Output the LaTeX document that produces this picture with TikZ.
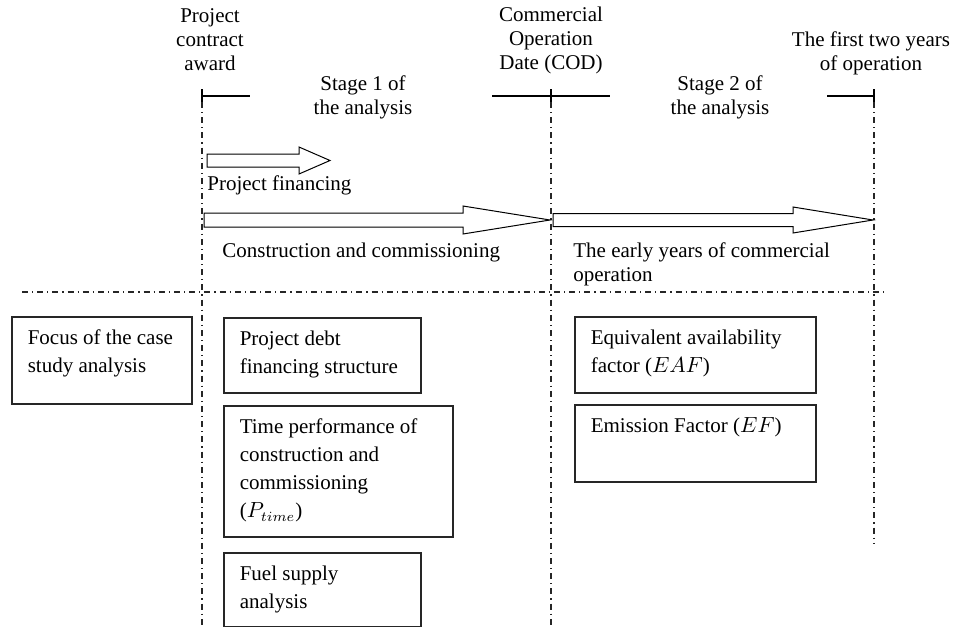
\documentclass[tikz,border=0pt]{standalone}
\usepackage{fontspec}
\setmainfont{Liberation Serif}
\tikzstyle{stylebox} = [rectangle, draw=black!85, line width=0.8pt, anchor=north west, inner sep=0pt, font=\fontsize{10.5pt}{14pt}\selectfont]
\tikzstyle{stylestage} = [align=center, inner sep=0pt, font=\fontsize{10.5pt}{12pt}\selectfont]
\tikzstyle{styletext} = [anchor=base west, inner sep=0pt, font=\fontsize{10.5pt}{12pt}\selectfont]
\tikzstyle{styleline} = [black!85, line width=0.6pt, dash pattern=on 3pt off 2pt on 0.6pt off 2pt]
\tikzstyle{stylebar} = [black, line width=0.7pt]
\tikzstyle{stylearrow} = [black, line width=0.5pt, fill=white]
% box text: width, height, lines
\newcommand{\boxtext}[3]{\parbox[t][#2][t]{#1}{\vspace*{4.2pt}\leftskip=8pt\rightskip=0pt plus 1fil\parindent=0pt\strut#3}}
% block arrow: start x, head x, tip x, centre y, shaft half, head half
\newcommand{\blockarrow}[6]{\draw[stylearrow] (#1,{#4-#5}) -- (#2,{#4-#5}) -- (#2,{#4-#6}) -- (#3,#4) -- (#2,{#4+#6}) -- (#2,{#4+#5}) -- (#1,{#4+#5}) -- cycle;}

\begin{document}
\begin{tikzpicture}[x=0.5pt, y=-0.5pt]
\useasboundingbox (0,0) rectangle (954,627);

% milestones
\coordinate (award) at (202,96);
\coordinate (cod) at (551,96);
\coordinate (opend) at (874,96);

\node (laward) [stylestage] at (210,40) {Project\\contract\\award};
\node (lcod) [stylestage] at (551,40) {Commercial\\Operation\\Date (COD)};
\node (lopend) [stylestage] at (871,53) {The first two years\\of operation};
\node (stage1) [stylestage] at (363,97) {Stage 1 of\\the analysis};
\node (stage2) [stylestage] at (720,97) {Stage 2 of\\the analysis};

\draw[stylebar] (202,89) -- (202,102);
\draw[stylebar] (award) -- (250,96);
\draw[stylebar] (551,89) -- (551,102);
\draw[stylebar] (492,96) -- (610,96);
\draw[stylebar] (874,89) -- (874,102);
\draw[stylebar] (827,96) -- (opend);

\draw[styleline] (202,102) -- (202,627);
\draw[styleline] (551,102) -- (551,627);
\draw[styleline] (874,102) -- (874,543);
\draw[styleline] (22,292) -- (888,292);

% periods
\blockarrow{207}{299}{330}{160.5}{6.5}{13.5}
\blockarrow{204}{463}{550}{220}{7}{14}
\blockarrow{553}{793}{873}{220}{6.5}{13}

\node (tfin) [styletext] at (207,190) {Project financing};
\node (tcon) [styletext] at (222,257) {Construction and commissioning};
\node (tear) [styletext, align=left] at (573,281) {The early years of commercial\\operation};

% focus boxes
\node (focus) [stylebox] at (11,316) {\boxtext{90pt}{43.5pt}{Focus of the case\\study analysis}};
\node (debt) [stylebox] at (223,317) {\boxtext{98.5pt}{37.5pt}{Project debt\\financing structure}};
\node (ptime) [stylebox] at (223,405) {\boxtext{114.5pt}{65.5pt}{Time performance of\\construction and\\commissioning\\($P_{time}$)}};
\node (fuel) [stylebox] at (223,552) {\boxtext{98.5pt}{37pt}{Fuel supply\\analysis}};
\node (eaf) [stylebox] at (574,316) {\boxtext{120.5pt}{38pt}{Equivalent availability\\factor ($EAF$)}};
\node (ef) [stylebox] at (574,404) {\boxtext{120.5pt}{38.5pt}{Emission Factor ($EF$)}};

\end{tikzpicture}
\end{document}
